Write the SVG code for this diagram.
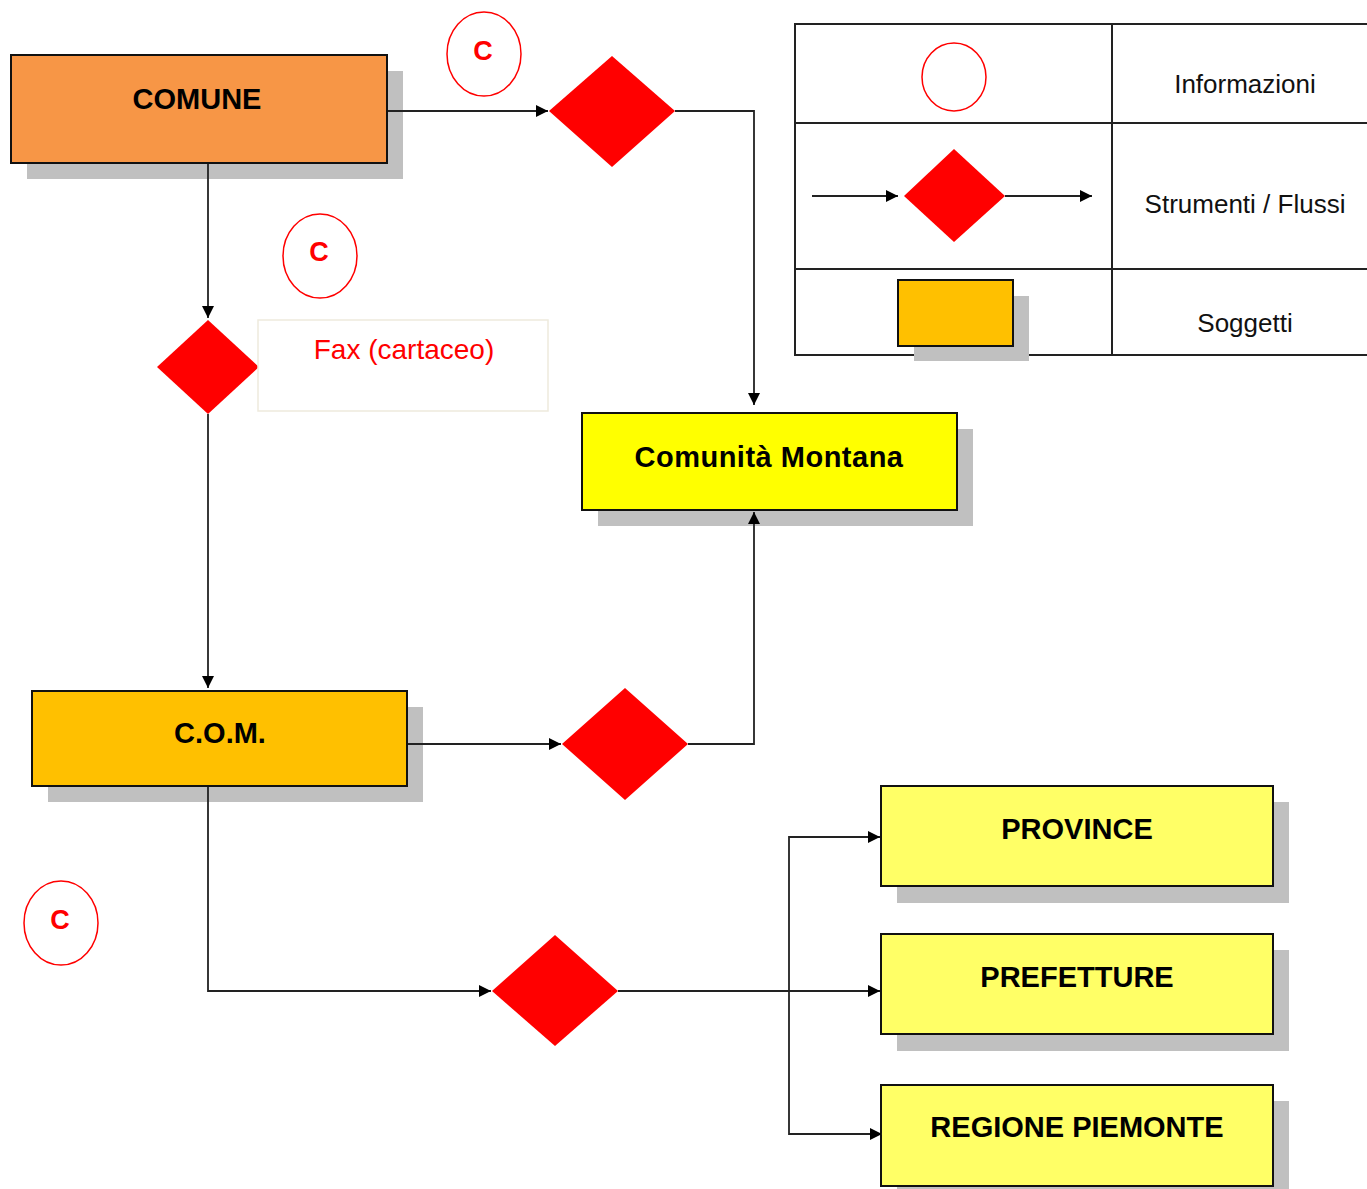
<svg xmlns="http://www.w3.org/2000/svg" width="1367" height="1189" viewBox="0 0 1367 1189">
<style>
.box{stroke:#111;stroke-width:2}
.sh{fill:#c0c0c0}
.lbl{font-family:"Liberation Sans",Arial,sans-serif;font-weight:bold;font-size:29px;fill:#000;text-anchor:middle}
.leg{font-family:"Liberation Sans",Arial,sans-serif;font-size:26px;fill:#111;text-anchor:middle}
.c{font-family:"Liberation Sans",Arial,sans-serif;font-weight:bold;font-size:27px;fill:#f00;text-anchor:middle}
.ell{fill:#fff;stroke:#f00;stroke-width:1.5}
.dia{fill:#f00}
.con{fill:none;stroke:#222;stroke-width:1.8}
.tbl{fill:none;stroke:#222;stroke-width:2}
</style>
<defs>
<marker id="arr" viewBox="0 0 12 12" refX="12" refY="6" markerWidth="12" markerHeight="12" markerUnits="userSpaceOnUse" orient="auto">
<path d="M0,0 L12,6 L0,12 z" fill="#000"/>
</marker>
</defs>
<rect width="1367" height="1189" fill="#fff"/>

<g id="legend">
<rect class="tbl" x="795" y="24" width="580" height="331"/>
<line class="tbl" x1="1112" y1="24" x2="1112" y2="355"/>
<line class="tbl" x1="795" y1="123" x2="1367" y2="123"/>
<line class="tbl" x1="795" y1="269" x2="1367" y2="269"/>
<ellipse class="ell" cx="954" cy="77" rx="32" ry="34"/>
<text class="leg" x="1245" y="93">Informazioni</text>
<line class="con" x1="812" y1="196" x2="898" y2="196" marker-end="url(#arr)"/>
<polygon class="dia" points="954,149 1005,196 954,242 904,196"/>
<line class="con" x1="1005" y1="196" x2="1092" y2="196" marker-end="url(#arr)"/>
<text class="leg" x="1245" y="213">Strumenti / Flussi</text>
<rect class="sh" x="914" y="296" width="115" height="65"/>
<rect class="box" x="898" y="280" width="115" height="66" fill="#ffc000"/>
<text class="leg" x="1245" y="332">Soggetti</text>
</g>

<g id="comune">
<rect class="sh" x="27" y="71" width="376" height="108"/>
<rect class="box" x="11" y="55" width="376" height="108" fill="#f79646"/>
<text class="lbl" x="197" y="109">COMUNE</text>
</g>

<g id="info1">
<ellipse class="ell" cx="484" cy="54" rx="37" ry="42"/>
<text class="c" x="483" y="60">C</text>
</g>

<g id="flow1">
<polygon class="dia" points="612,56 675,111 612,167 549,111"/>
</g>

<g id="info2">
<ellipse class="ell" cx="320" cy="256" rx="37" ry="42"/>
<text class="c" x="319" y="261">C</text>
</g>

<g id="flow2">
<polygon class="dia" points="208,320 259,367 208,414 157,367"/>
</g>

<g id="fax">
<rect x="258" y="320" width="290" height="91" fill="#fff" stroke="#eeeadd" stroke-width="1.5"/>
<text x="404" y="359" font-family="'Liberation Sans',Arial,sans-serif" font-size="28" fill="#f00" text-anchor="middle">Fax (cartaceo)</text>
</g>

<g id="comunita">
<rect class="sh" x="598" y="429" width="375" height="97"/>
<rect class="box" x="582" y="413" width="375" height="97" fill="#ffff00"/>
<text class="lbl" x="769" y="467" font-size="28" letter-spacing="0.5">Comunità Montana</text>
</g>

<g id="com">
<rect class="sh" x="48" y="707" width="375" height="95"/>
<rect class="box" x="32" y="691" width="375" height="95" fill="#ffc000"/>
<text class="lbl" x="220" y="743">C.O.M.</text>
</g>

<g id="flow3">
<polygon class="dia" points="625,688 688,744 625,800 562,744"/>
</g>

<g id="info3">
<ellipse class="ell" cx="61" cy="923" rx="37" ry="42"/>
<text class="c" x="60" y="929">C</text>
</g>

<g id="flow4">
<polygon class="dia" points="555,935 618,991 555,1046 492,991"/>
</g>

<g id="province">
<rect class="sh" x="897" y="802" width="392" height="101"/>
<rect class="box" x="881" y="786" width="392" height="100" fill="#ffff66"/>
<text class="lbl" x="1077" y="839">PROVINCE</text>
</g>

<g id="prefetture">
<rect class="sh" x="897" y="950" width="392" height="101"/>
<rect class="box" x="881" y="934" width="392" height="100" fill="#ffff66"/>
<text class="lbl" x="1077" y="987">PREFETTURE</text>
</g>

<g id="regione">
<rect class="sh" x="897" y="1101" width="392" height="101"/>
<rect class="box" x="881" y="1085" width="392" height="101" fill="#ffff66"/>
<text class="lbl" x="1077" y="1137">REGIONE PIEMONTE</text>
</g>

<g id="connectors">
<line class="con" x1="388" y1="111" x2="548" y2="111" marker-end="url(#arr)"/>
<polyline class="con" points="675,111 754,111 754,405" marker-end="url(#arr)"/>
<line class="con" x1="208" y1="164" x2="208" y2="318" marker-end="url(#arr)"/>
<line class="con" x1="208" y1="414" x2="208" y2="688" marker-end="url(#arr)"/>
<line class="con" x1="408" y1="744" x2="561" y2="744" marker-end="url(#arr)"/>
<polyline class="con" points="688,744 754,744 754,512" marker-end="url(#arr)"/>
<polyline class="con" points="208,787 208,991 491,991" marker-end="url(#arr)"/>
<line class="con" x1="618" y1="991" x2="880" y2="991" marker-end="url(#arr)"/>
<polyline class="con" points="880,837 789,837 789,1134 882,1134" marker-end="url(#arr)"/>
<line class="con" x1="789" y1="837" x2="880" y2="837" marker-end="url(#arr)"/>
</g>
</svg>
